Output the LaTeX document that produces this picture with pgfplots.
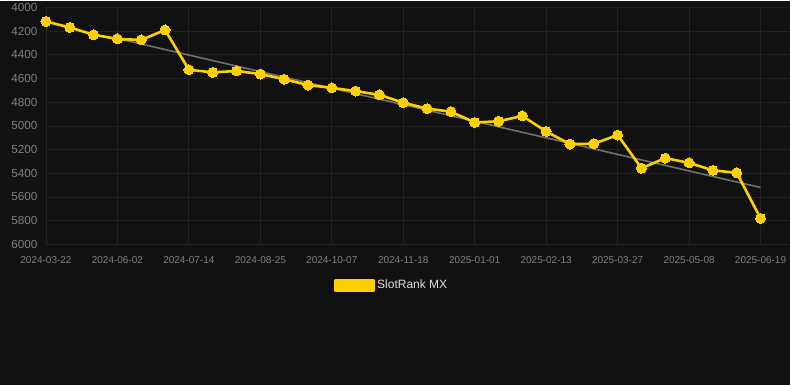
\documentclass[border=0pt]{standalone}
\usepackage{fontspec}
\setmainfont{Liberation Sans}
\usepackage{pgfplots}
\pgfplotsset{compat=1.18}
\definecolor{bg}{HTML}{111111}
\definecolor{gridc}{HTML}{222222}
\definecolor{tickc}{HTML}{808080}
\definecolor{gold}{HTML}{FFD000}
\definecolor{trend}{HTML}{707070}
\definecolor{legtext}{HTML}{E0E0E0}
\begin{document}
\begin{tikzpicture}[x=1pt,y=1pt]
\fill[bg] (0,0) rectangle (790,384);
\begin{axis}[
  at={(46pt,141pt)}, anchor=south west,
  scale only axis, width=744pt, height=237pt,
  xmin=0, xmax=31.22, ymin=4000, ymax=6000, y dir=reverse,
  clip=false,
  axis line style={draw=none},
  tick style={draw=none},
  xtick={0,3,...,30},
  xticklabels={2024-03-22,2024-06-02,2024-07-14,2024-08-25,2024-10-07,2024-11-18,2025-01-01,2025-02-13,2025-03-27,2025-05-08,2025-06-19},
  ytick={4000,4200,...,6000},
  /pgf/number format/1000 sep={},
  /pgf/number format/assume math mode=true,
  grid=major,
  major grid style={draw=gridc, line width=0.8pt},
  x tick label style={font=\fontsize{10}{11}\selectfont, text=tickc, yshift=-9pt},
  y tick label style={font=\fontsize{11.7}{12}\selectfont, text=tickc, xshift=-5pt},
  legend style={at={(0.4645,-0.173)}, anchor=center, draw=none, fill=none,
    text=legtext, font=\fontsize{12}{13}\selectfont},
  legend cell align=left,
]
\addplot[trend, line width=1.6pt, forget plot] coordinates {(3,4262) (30,5520)};
\addplot[gold, line width=2.6pt, line join=round, mark=*, mark size=5pt, mark options={fill=gold, draw=gold, line width=0pt},
  legend image code/.code={\fill[gold] (-4pt,-5pt) rectangle (35pt,5pt);}]
coordinates {
(0,4118) (1,4169) (2,4230) (3,4266) (4,4274) (5,4190) (6,4526) (7,4548) (8,4536) (9,4562)
(10,4606) (11,4655) (12,4679) (13,4706) (14,4738) (15,4804) (16,4854) (17,4880) (18,4971) (19,4961)
(20,4916) (21,5047) (22,5154) (23,5150) (24,5077) (25,5357) (26,5272) (27,5312) (28,5375) (29,5396)
(30,5781)};
\addlegendentry{SlotRank MX}
\end{axis}
\end{tikzpicture}
\end{document}
